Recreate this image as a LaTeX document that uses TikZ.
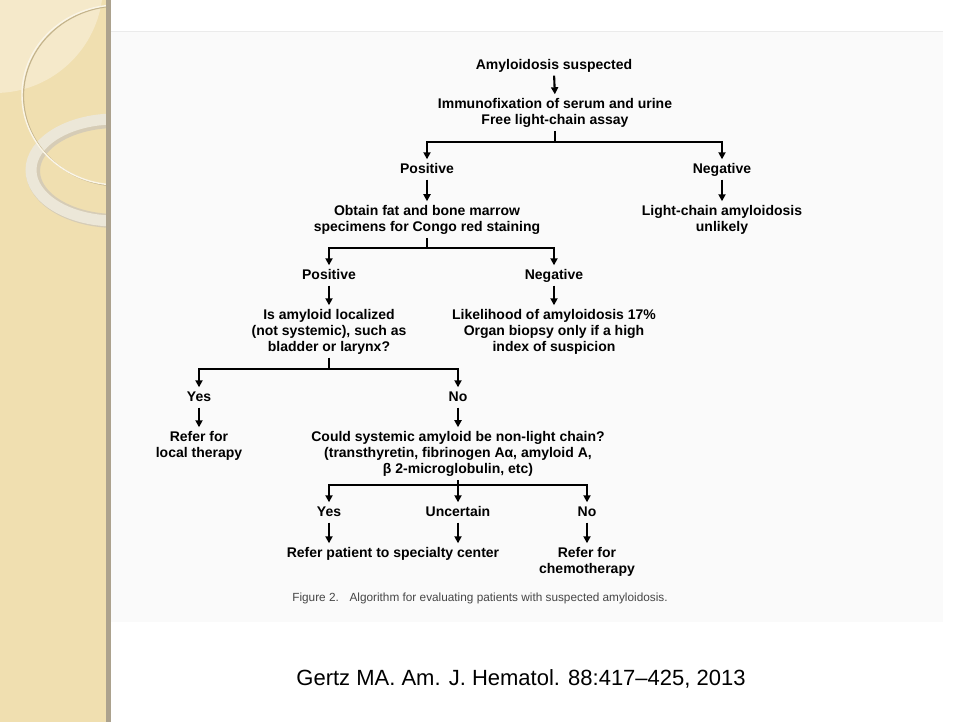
\documentclass[tikz,border=0pt]{standalone}
\usepackage{fontspec}
\setmainfont{Liberation Sans}
\usetikzlibrary{arrows.meta}
\definecolor{beige}{RGB}{240,223,176}
\definecolor{beigelight}{RGB}{245,233,202}
\definecolor{ringcol}{RGB}{236,231,216}
\definecolor{ringshade}{RGB}{214,204,182}
\definecolor{arcshade}{RGB}{196,180,140}
\definecolor{stripline}{RGB}{172,162,142}
\definecolor{capgray}{RGB}{70,70,70}
\tikzset{
  txt/.style={font=\bfseries\fontsize{14}{16}\selectfont, align=center, inner sep=0pt},
  one/.style={txt, text height=10pt, text depth=3pt},
  ln/.style={line width=2.1pt, line join=miter},
  arr/.style={ln, -{Triangle[length=7pt,width=7pt]}, shorten >=4pt},
}
\begin{document}
\begin{tikzpicture}[x=1pt,y=-1pt]
\useasboundingbox (0,0) rectangle (960,722);
\fill[white] (0,0) rectangle (960,722);
% decorative strip
\fill[beige] (0,0) rectangle (108,722);
\begin{scope}
  \clip (0,0) rectangle (108,722);
  \fill[beigelight] (-5,-15) circle [radius=108];
  % ring
  \draw[line width=14pt, ringshade] (116,171) ellipse [x radius=83, y radius=50];
  \draw[line width=11pt, ringcol] (115,170) ellipse [x radius=84, y radius=51];
  % thin arc with shadow
  \draw[line width=1.2pt, arcshade] (119.5,96) ellipse [x radius=96, y radius=90];
  \draw[line width=1.4pt, white!70!beige] (118,95) ellipse [x radius=96, y radius=90];
\end{scope}
\fill[stripline] (106,0) rectangle (111,722);
% image region
\fill[black!2] (111,31) rectangle (943,622);
\draw[black!8, line width=0.8pt] (111,31) -- (943,31);

% nodes
\node[one] (n1) at (554,66) {Amyloidosis suspected};
\node[txt] (n2) at (555,113) {Immunofixation of serum and urine\\Free light-chain assay};
\node[one] (p1) at (427,170) {Positive};
\node[one] (ng1) at (722,170) {Negative};
\node[txt] (obt) at (427,220) {Obtain fat and bone marrow\\specimens for Congo red staining};
\node[txt] (lc) at (722,220) {Light-chain amyloidosis\\unlikely};
\node[one] (p2) at (329,276) {Positive};
\node[one] (ng2) at (554,276) {Negative};
\node[txt] (loc) at (329,332) {Is amyloid localized\\(not systemic), such as\\bladder or larynx?};
\node[txt] (lik) at (554,332) {Likelihood of amyloidosis 17\%\\Organ biopsy only if a high\\index of suspicion};
\node[one] (y1) at (199,398) {Yes};
\node[one] (no1) at (458,398) {No};
\node[txt] (rl) at (199,446) {Refer for\\local therapy};
\node[txt] (cs) at (458,454) {Could systemic amyloid be non-light chain?\\(transthyretin, fibrinogen Aα, amyloid A,\\β 2-microglobulin, etc)};
\node[one] (y2) at (329,513) {Yes};
\node[one] (unc) at (458,513) {Uncertain};
\node[one] (no2) at (587,513) {No};
\node[one] (rp) at (393,554) {Refer patient to specialty center};
\node[txt] (rc) at (587,562) {Refer for\\chemotherapy};
\node[font=\fontsize{11.8}{14}\selectfont, text=capgray, inner sep=0pt] (cap) at (480,598) {Figure 2.\hspace{0.9em}Algorithm for evaluating patients with suspected amyloidosis.};
\node[font=\fontsize{22}{26}\selectfont, inner sep=0pt] (cit) at (521,679) {Gertz MA. Am. J. Hematol. 88:417–425, 2013};

% junctions
\coordinate (j1) at (n2.south |- 0,142);
\coordinate (j2) at (obt.south |- 0,248);
\coordinate (j3) at (loc.south |- 0,369);
\coordinate (j4) at (cs.south |- 0,485);

% connectors
\draw[arr, shorten <=3pt] (n1.south) -- (n2.north);
\draw[ln, shorten <=3pt] (n2.south) -- (j1);
\draw[arr] (j1) -| (p1.north);
\draw[arr] (j1) -| (ng1.north);
\draw[arr, shorten <=3pt] (p1.south) -- (obt.north);
\draw[arr, shorten <=3pt] (ng1.south) -- (lc.north);
\draw[ln, shorten <=3pt] (obt.south) -- (j2);
\draw[arr] (j2) -| (p2.north);
\draw[arr] (j2) -| (ng2.north);
\draw[arr, shorten <=3pt] (p2.south) -- (loc.north);
\draw[arr, shorten <=3pt] (ng2.south) -- (lik.north);
\draw[ln, shorten <=3pt] (loc.south) -- (j3);
\draw[arr] (j3) -| (y1.north);
\draw[arr] (j3) -| (no1.north);
\draw[arr, shorten <=3pt] (y1.south) -- (rl.north);
\draw[arr, shorten <=3pt] (no1.south) -- (cs.north);
\draw[ln, shorten <=3pt] (cs.south) -- (j4);
\draw[arr] (j4) -| (y2.north);
\draw[arr] (j4) -- (unc.north);
\draw[arr] (j4) -| (no2.north);
\draw[arr, shorten <=3pt] (y2.south) -- (y2.south |- rp.north);
\draw[arr, shorten <=3pt] (unc.south) -- (unc.south |- rp.north);
\draw[arr, shorten <=3pt] (no2.south) -- (rc.north);
\end{tikzpicture}
\end{document}
